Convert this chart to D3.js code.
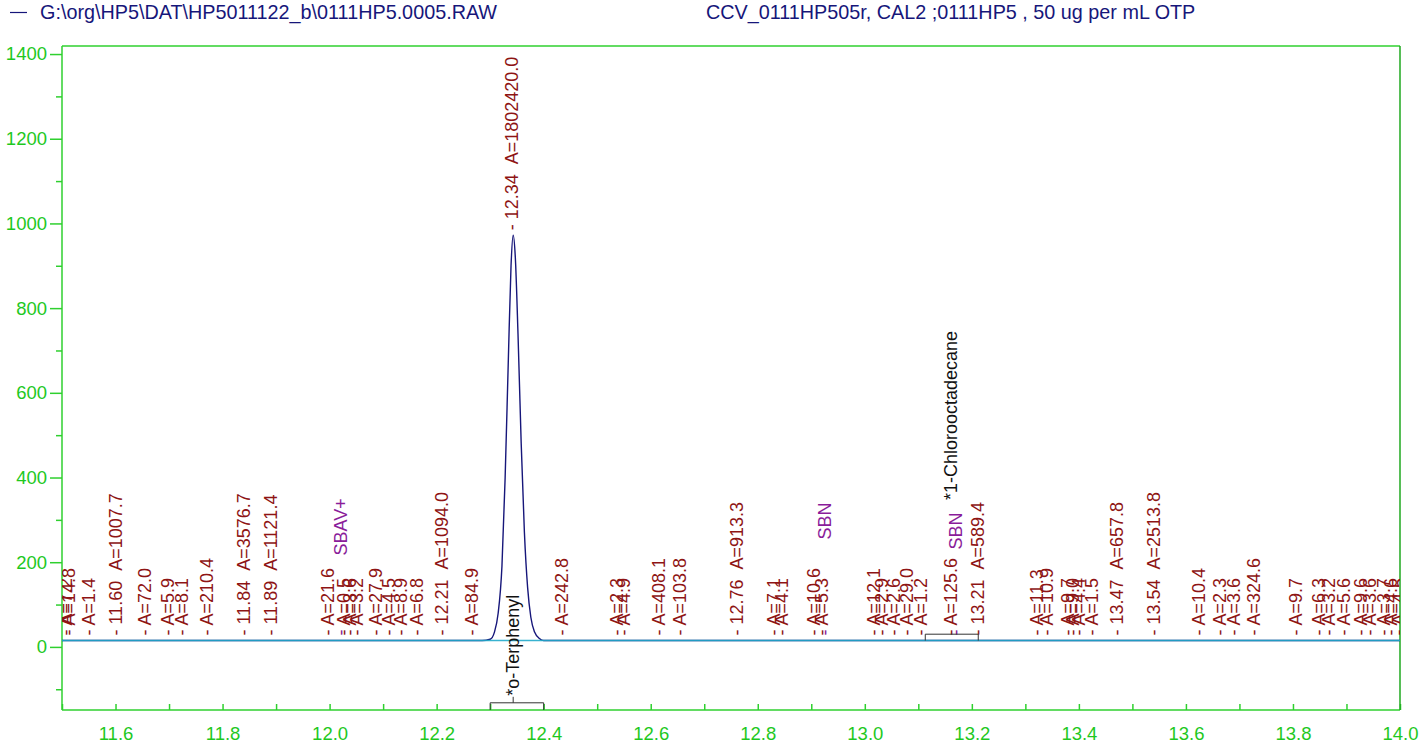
<!DOCTYPE html>
<html>
<head>
<meta charset="utf-8">
<script src="https://cdn.jsdelivr.net/npm/d3@7"></script>
<style>
  html, body { margin: 0; padding: 0; background: #fff; }
  svg { display: block; font-family: "Liberation Sans", Arial, Helvetica, sans-serif; }
  text { white-space: pre; }
</style>
</head>
<body>
<svg id="chart" width="1428" height="747"></svg>
<script>
// ---- Run identification ----
const fileName = "G:\\org\\HP5\\DAT\\HP5011122_b\\0111HP5.0005.RAW";
const sampleName = "CCV_0111HP505r, CAL2 ;0111HP5 , 50 ug per mL OTP";

// ---- Axes ----
const timeExtent = [11.5, 14.0];          // minutes
const signalExtent = [-149, 1419];        // detector response
const timeTicks = [11.6, 11.8, 12.0, 12.2, 12.4, 12.6, 12.8, 13.0, 13.2, 13.4, 13.6, 13.8, 14.0];
const signalTicks = [0, 200, 400, 600, 800, 1000, 1200, 1400];

// ---- Detector trace (time, response) ----
const traceTime = [11.50, 11.80, 12.10, 12.285, 12.300, 12.308, 12.315, 12.322, 12.328, 12.334, 12.339,
                   12.343, 12.347, 12.352, 12.358, 12.364, 12.370, 12.376, 12.383, 12.392, 12.400,
                   12.70, 13.00, 13.40, 13.70, 14.00];
const traceSignal = [15, 15, 15, 15, 18, 35, 80, 190, 400, 680, 900,
                     972, 920, 740, 480, 270, 140, 70, 35, 20, 15,
                     15, 15, 15, 15, 15];
const baselineLevel = 15;

// ---- Integrated peaks ----
const peakTime = [11.506, 11.513, 11.549, 11.60, 11.654, 11.697, 11.724, 11.770, 11.84, 11.89,
                  11.996, 12.026, 12.037, 12.050, 12.087, 12.110, 12.132, 12.163, 12.21, 12.266,
                  12.34, 12.434, 12.537, 12.549, 12.615, 12.655, 12.76, 12.830, 12.845, 12.904,
                  12.920, 13.016, 13.032, 13.054, 13.079, 13.104, 13.160, 13.21, 13.322, 13.339,
                  13.379, 13.389, 13.399, 13.423, 13.47, 13.54, 13.624, 13.664, 13.689, 13.727,
                  13.805, 13.848, 13.867, 13.895, 13.926, 13.944, 13.970, 13.982, 13.998];
const peakArea = ["7.2", "14.8", "1.4", "1007.7", "72.0", "5.9", "8.1", "210.4", "3576.7", "1121.4",
                  "21.6", "0.5", "3.6", "3.2", "27.9", "4.5", "8.9", "6.8", "1094.0", "84.9",
                  "1802420.0", "242.8", "2.3", "4.9", "408.1", "103.8", "913.3", "7.1", "4.1", "10.6",
                  "5.3", "12.1", "2.9", "2.6", "29.0", "1.2", "125.6", "589.4", "11.3", "10.9",
                  "9.7", "9.0", "4.4", "1.5", "657.8", "2513.8", "10.4", "2.3", "3.6", "324.6",
                  "9.7", "6.3", "3.2", "5.6", "9.6", "3.6", "3.7", "4.6", "4.5"];
// retention times printed next to the area (empty where only the area is shown)
const peakRTLabel = ["", "", "", "11.60", "", "", "", "", "11.84", "11.89",
                     "", "", "", "", "", "", "", "", "12.21", "",
                     "12.34", "", "", "", "", "", "12.76", "", "", "",
                     "", "", "", "", "", "", "", "13.21", "", "",
                     "", "", "", "", "13.47", "13.54", "", "", "", "",
                     "", "", "", "", "", "", "", "", ""];

// ---- Baseline event markers ----
const eventName = ["SBAV+", "SBN", "SBN"];
const eventTime = [12.02, 12.925, 13.17];

// ---- Identified compounds (name, apex, window) ----
const compoundName = ["*o-Terphenyl", "*1-Chlorooctadecane"];
const compoundTime = [12.343, 13.16];
const compoundWindowStart = [12.30, 13.113];
const compoundWindowEnd = [12.40, 13.212];

// ================= drawing =================
const svg = d3.select("#chart");
const plot = { left: 62, right: 1400, top: 46, bottom: 710 };

const x = d3.scaleLinear().domain(timeExtent).range([plot.left, plot.right]);
const y = d3.scaleLinear().domain(signalExtent).range([plot.bottom, plot.top]);

const green = "#2fd02f", greenText = "#1ec81e", navy = "#16167a",
      peakRed = "#8e1414", purple = "#8a1c9a";
const labelSize = "18px";

// header
svg.append("line").attr("x1", 10).attr("x2", 27).attr("y1", 12.5).attr("y2", 12.5)
  .attr("stroke", navy).attr("stroke-width", 1.2);
svg.append("text").attr("x", 40).attr("y", 19).attr("fill", navy)
  .style("font-size", "19.8px").text(fileName);
svg.append("text").attr("x", 706).attr("y", 19).attr("fill", navy)
  .style("font-size", "19.8px").text(sampleName);

// clip for everything drawn inside the frame
svg.append("clipPath").attr("id", "plotClip").append("rect")
  .attr("x", plot.left).attr("y", plot.top)
  .attr("width", plot.right - plot.left).attr("height", plot.bottom - plot.top);

// y axis (major + minor ticks, outward)
svg.append("g").attr("transform", `translate(${plot.left},0)`)
  .call(d3.axisLeft(y).tickValues(signalTicks).tickSize(12).tickPadding(3).tickFormat(d3.format("d")));
svg.append("g").attr("transform", `translate(${plot.left},0)`)
  .call(d3.axisLeft(y).tickValues(d3.range(-100, 1401, 200)).tickSize(6).tickFormat(""));

// x axis (major + minor ticks, inward)
svg.append("g").attr("transform", `translate(0,${plot.bottom})`)
  .call(d3.axisBottom(x).tickValues(timeTicks).tickSize(-6).tickPadding(17).tickFormat(d3.format(".1f")));
svg.append("g").attr("transform", `translate(0,${plot.bottom})`)
  .call(d3.axisBottom(x).tickValues(d3.range(11.5, 14.0, 0.2)).tickSize(-6).tickFormat(""));

svg.selectAll(".domain").remove();
svg.selectAll(".tick line").attr("stroke", green).attr("stroke-width", 1.5);
svg.selectAll(".tick text").attr("fill", greenText).style("font-size", "18.5px")
  .style("font-family", "'Liberation Sans', Arial, sans-serif");

// frame
svg.append("line").attr("x1", plot.left).attr("x2", plot.left).attr("y1", plot.top).attr("y2", plot.bottom)
  .attr("stroke", green).attr("stroke-width", 1.5);
svg.append("line").attr("x1", plot.left).attr("x2", plot.right).attr("y1", plot.bottom).attr("y2", plot.bottom)
  .attr("stroke", green).attr("stroke-width", 1.5);
svg.append("line").attr("x1", plot.left).attr("x2", plot.right).attr("y1", plot.top).attr("y2", plot.top)
  .attr("stroke", green).attr("stroke-width", 1.5);
svg.append("line").attr("x1", plot.right).attr("x2", plot.right).attr("y1", plot.top).attr("y2", plot.bottom)
  .attr("stroke", "#1fa81f").attr("stroke-width", 1.5);

const inner = svg.append("g").attr("clip-path", "url(#plotClip)");

// detector trace
const trace = traceTime.map((t, i) => ({ t, v: traceSignal[i] }));
const line = d3.line().x(d => x(d.t)).y(d => y(d.v)).curve(d3.curveMonotoneX);
inner.append("path").datum(trace).attr("d", line)
  .attr("fill", "none").attr("stroke", navy).attr("stroke-width", 1.4);

// integration baseline
inner.append("line").attr("x1", x(timeExtent[0])).attr("x2", x(timeExtent[1]))
  .attr("y1", y(baselineLevel)).attr("y2", y(baselineLevel))
  .attr("stroke", "#23aacb").attr("stroke-width", 1.4).attr("opacity", 0.9);

// highest response of the trace within a few thousandths of a minute of t
function localMax(t) {
  const near = trace.filter(d => Math.abs(d.t - t) <= 0.005).map(d => d.v);
  const bisect = d3.bisector(d => d.t).left;
  const i = Math.max(1, Math.min(trace.length - 1, bisect(trace, t)));
  const a = trace[i - 1], b = trace[i];
  const interp = a.v + (b.v - a.v) * (t - a.t) / (b.t - a.t);
  return Math.max(interp, ...near);
}

// vertical label helper
function vlabel(g, t, yPix, str, color) {
  return g.append("text")
    .attr("transform", `translate(${x(t)},${yPix}) rotate(-90)`)
    .attr("dy", "0.35em").attr("fill", color)
    .style("font-size", labelSize).text(str);
}

// peak annotations: each starts just above the trace
peakTime.forEach((t, i) => {
  const rt = peakRTLabel[i];
  const str = "- " + (rt ? rt + "\u00a0\u00a0" : "") + "A=" + peakArea[i];
  const v = localMax(t);
  vlabel(inner, t, y(v) - 5, str, peakRed);
});

// baseline events
const eventLift = [80, 96, 86];
eventTime.forEach((t, i) => {
  const base = y(localMax(t)) - 5;
  vlabel(inner, t, base, "-", purple);
  vlabel(inner, t, base - eventLift[i], eventName[i], purple);
});

// compound windows and names
const windowLevel = [-132, 30];
const windowDrop = [-149, baselineLevel];
compoundName.forEach((name, i) => {
  const yTop = y(windowLevel[i]), yEnd = y(windowDrop[i]);
  const x0 = x(compoundWindowStart[i]), x1 = x(compoundWindowEnd[i]);
  svg.append("path")
    .attr("d", `M${x0},${yEnd}V${yTop}H${x1}V${yEnd}`)
    .attr("fill", "none").attr("stroke", "#333").attr("stroke-width", 1);
});
// o-Terphenyl: name sits just above its window
svg.append("line").attr("x1", x(compoundTime[0])).attr("x2", x(compoundTime[0]))
  .attr("y1", y(windowLevel[0])).attr("y2", y(windowLevel[0]) - 6)
  .attr("stroke", "#333").attr("stroke-width", 1);
vlabel(svg, compoundTime[0], y(windowLevel[0]) - 7, compoundName[0], "#111");
// 1-Chlorooctadecane: name placed above the crowded peak labels
vlabel(svg, compoundTime[1], 500, compoundName[1], "#111");
</script>
</body>
</html>
